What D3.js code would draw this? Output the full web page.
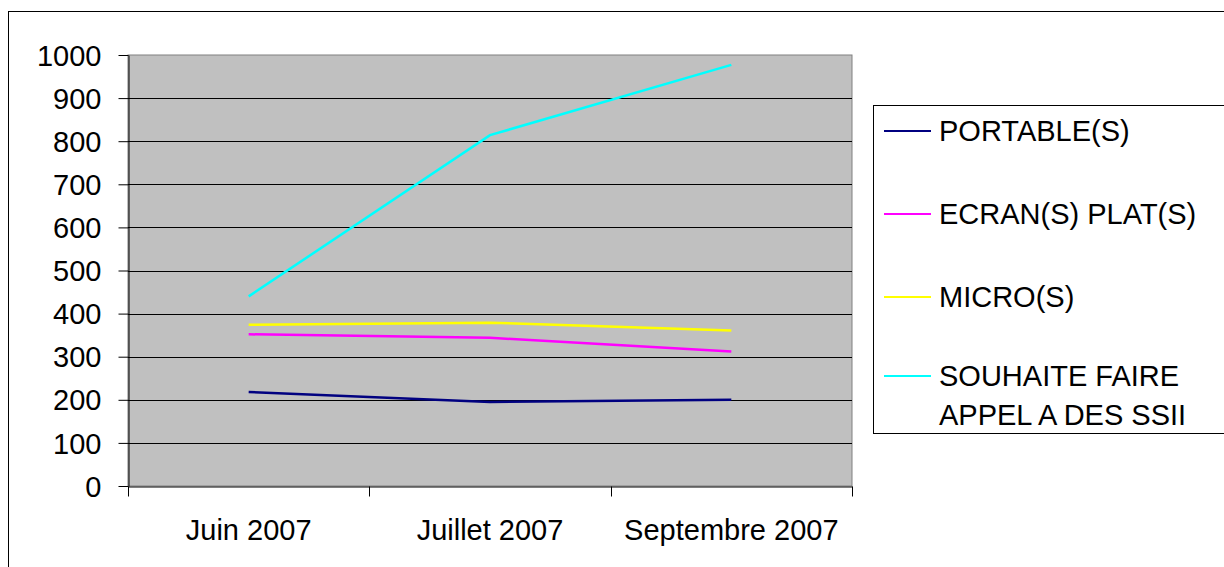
<!DOCTYPE html>
<html>
<head>
<meta charset="utf-8">
<script src="https://cdn.jsdelivr.net/npm/d3@7/dist/d3.min.js"></script>
<style>
  body { margin: 0; background: #fff; }
  svg { display: block; font-family: "Liberation Sans", Arial, sans-serif; }
</style>
</head>
<body>
<svg id="chart" width="1224" height="567"></svg>
<script>
// data
const months = ["Juin 2007", "Juillet 2007", "Septembre 2007"];
const seriesNames = ["PORTABLE(S)", "ECRAN(S) PLAT(S)", "MICRO(S)", "SOUHAITE FAIRE APPEL A DES SSII"];
const legendLines = [["PORTABLE(S)"], ["ECRAN(S) PLAT(S)"], ["MICRO(S)"], ["SOUHAITE FAIRE", "APPEL A DES SSII"]];
const portable = [218, 195, 200];
const ecrans = [352, 344, 312];
const micro = [374, 379, 361];
const ssii = [440, 814, 977];
const yTicks = [0, 100, 200, 300, 400, 500, 600, 700, 800, 900, 1000];
const colors = ["#000080", "#FF00FF", "#FFFF00", "#00FFFF"];

let series = [portable, ecrans, micro, ssii];

let svg = d3.select("#chart");
let plotLeft = 128, plotRight = 852, plotTop = 55, plotBottom = 486;

// outer chart frame
svg.append("rect")
  .attr("x", 8.5).attr("y", 11.5)
  .attr("width", 1240).attr("height", 600)
  .attr("fill", "#fff").attr("stroke", "#000");

let xScale = d3.scaleBand().domain(months).range([plotLeft, plotRight]).padding(0);
let yScale = d3.scaleLinear().domain([0, 1000]).range([plotBottom, plotTop]);

// plot background
svg.append("rect")
  .attr("x", plotLeft).attr("y", plotTop)
  .attr("width", plotRight - plotLeft).attr("height", plotBottom - plotTop)
  .attr("fill", "#C0C0C0")
  .attr("stroke", "#808080");

// gridlines
svg.append("g").selectAll("line")
  .data(yTicks.filter(d => d > 0 && d < 1000))
  .enter().append("line")
  .attr("x1", plotLeft).attr("x2", plotRight)
  .attr("y1", d => Math.round(yScale(d)) + 0.5)
  .attr("y2", d => Math.round(yScale(d)) + 0.5)
  .attr("stroke", "#000");

// y axis
let yAxis = d3.axisLeft(yScale).tickValues(yTicks).tickFormat(d3.format("d"))
  .tickSize(10).tickPadding(17).tickSizeOuter(0);
let gy = svg.append("g")
  .attr("transform", "translate(" + (plotLeft + 0.5) + ",0)")
  .call(yAxis);
gy.selectAll("text").style("font-size", "29px").attr("fill", "#000").attr("dy", "0.35em");
gy.select(".domain").attr("stroke", "#000");

// x axis
let xAxis = d3.axisBottom(xScale).tickValues([]).tickSizeOuter(0);
let gx = svg.append("g")
  .attr("transform", "translate(0," + (plotBottom + 0.5) + ")")
  .call(xAxis);
gx.select(".domain").attr("stroke", "#000");
let xEdges = [plotLeft, plotLeft + xScale.bandwidth(), plotLeft + 2 * xScale.bandwidth(), plotRight];
gx.selectAll(".edge").data(xEdges).enter().append("line")
  .attr("x1", d => Math.round(d) + 0.5).attr("x2", d => Math.round(d) + 0.5)
  .attr("y1", 0).attr("y2", 10)
  .attr("stroke", "#000");
gx.selectAll(".lbl").data(months).enter().append("text")
  .attr("x", d => xScale(d) + xScale.bandwidth() / 2)
  .attr("y", 53)
  .attr("text-anchor", "middle")
  .style("font-size", "29px")
  .attr("fill", "#000")
  .text(d => d);

// lines
let line = d3.line()
  .x((d, i) => xScale(months[i]) + xScale.bandwidth() / 2)
  .y(d => yScale(d));
svg.append("g").selectAll("path")
  .data(series)
  .enter().append("path")
  .attr("d", d => line(d))
  .attr("fill", "none")
  .attr("stroke", (d, i) => colors[i])
  .attr("stroke-width", 2.5);

// legend
svg.append("rect")
  .attr("x", 873.5).attr("y", 105.5)
  .attr("width", 400).attr("height", 328)
  .attr("fill", "#fff").attr("stroke", "#000");

let legendY = [131, 214, 297, 376];
let lg = svg.append("g").selectAll("g")
  .data(seriesNames)
  .enter().append("g")
  .attr("transform", (d, i) => "translate(0," + legendY[i] + ")");
lg.append("line")
  .attr("x1", 884).attr("x2", 931)
  .attr("y1", 0).attr("y2", 0)
  .attr("stroke", (d, i) => colors[i])
  .attr("stroke-width", 2);
lg.each(function (d, i) {
  let g = d3.select(this);
  legendLines[i].forEach(function (t, j) {
    g.append("text")
      .attr("x", 939).attr("y", j * 39)
      .attr("dy", "0.35em")
      .style("font-size", "29px")
      .attr("fill", "#000")
      .text(t);
  });
});
</script>
</body>
</html>
